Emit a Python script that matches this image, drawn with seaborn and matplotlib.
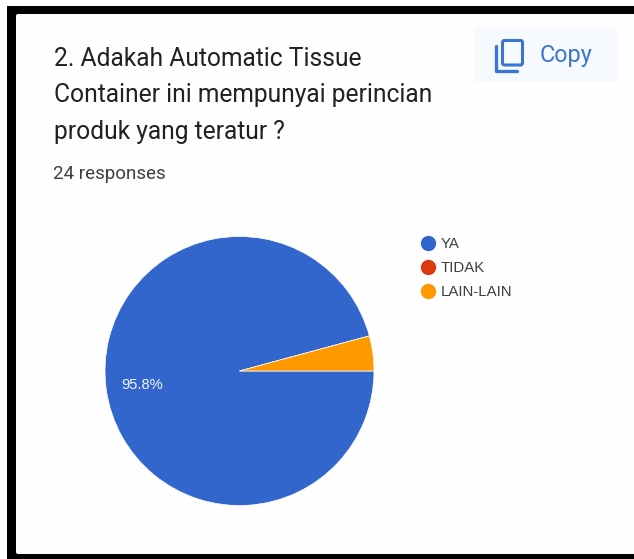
import matplotlib
matplotlib.use("Agg")
import matplotlib.pyplot as plt
from matplotlib.patches import Rectangle, FancyBboxPatch
import seaborn as sns

sns.set_theme(style="white")
plt.rcParams['font.family'] = ['Roboto', 'DejaVu Sans']

title_lines = ["2. Adakah Automatic Tissue", "Container ini mempunyai perincian", "produk yang teratur ?"]
subtitle = "24 responses"
categories = ["YA", "TIDAK", "LAIN-LAIN"]
values = [95.8, 0.0, 4.2]
colors = ["#3366cc", "#dc3912", "#ff9900"]
copy_label = "Copy"

W, H = 634, 559
fig = plt.figure(figsize=(W / 100, H / 100), dpi=100)
bg = fig.add_axes([0, 0, 1, 1])
bg.set_xlim(0, W); bg.set_ylim(H, 0); bg.axis("off")
bg.add_patch(Rectangle((7, 6), W - 7, H - 6, fc="black", ec="none"))
bg.add_patch(FancyBboxPatch((17, 15), W - 15, 538, boxstyle="round,pad=1,rounding_size=2", fc="#fefefe", ec="none"))

for t, y in zip(title_lines, [59, 95, 132]):
    bg.text(53.5, y, t, fontsize=17.7, color="#202124", va="center", ha="left", family="Roboto")
bg.text(53, 174, subtitle, fontsize=13.5, color="#3c4043", va="center", ha="left", family="Roboto")

bg.add_patch(Rectangle((474, 28), 144, 54, fc="#f6faff", ec="none"))
bg.add_patch(FancyBboxPatch((502.5, 40.5), 20, 24.5, boxstyle="round,pad=0,rounding_size=2", fc="none", ec="#3a76cf", lw=2.2))
bg.plot([496, 496, 517], [46, 70.5, 70.5], color="#3a76cf", lw=2.4, solid_capstyle="round", solid_joinstyle="round")
bg.text(540, 55.5, copy_label, fontsize=16.8, color="#3a76cf", va="center", ha="left", family="Roboto")

# pie: center (239.5, 371), radius 134.5 px
r = 134.5
ax = fig.add_axes([(239.5 - r) / W, 1 - (371 + r) / H, 2 * r / W, 2 * r / H])
ax.pie(values, colors=colors, startangle=0, counterclock=False, radius=1.0,
       wedgeprops=dict(edgecolor="white", linewidth=0.5))
ax.set_xlim(-1, 1); ax.set_ylim(-1, 1)
ax.set_aspect("equal")
ax.set_zorder(1)

lab = fig.add_axes([0, 0, 1, 1], facecolor="none")
lab.set_xlim(0, W); lab.set_ylim(H, 0); lab.axis("off")
lab.set_zorder(2)
lab.text(142, 385, f"{values[0]}%", fontsize=10.6, color="#f4f6fb", ha="center", va="center", family="Liberation Sans")
for c, col, y in zip(categories, colors, [243, 267, 291]):
    lab.scatter([427.5], [y], s=122, color=col, linewidths=0)
    lab.text(440.5, y + 1, c, fontsize=10.8, color="#3c4043", va="center", ha="left", family="Liberation Sans")

fig.savefig("out.png", dpi=100)
